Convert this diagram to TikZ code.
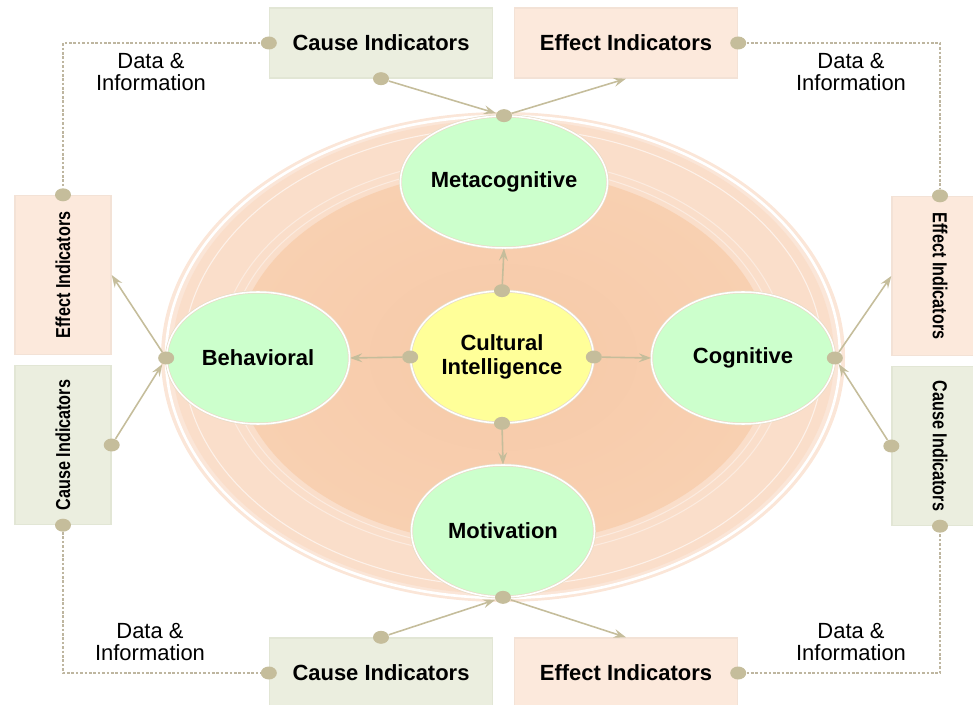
\documentclass[tikz,border=0pt]{standalone}
\usepackage{fontspec}
\setmainfont{Liberation Sans}
\newfontfamily\narrowsf[FakeStretch=0.8]{Liberation Sans}
\usetikzlibrary{arrows.meta,shapes.geometric,positioning}
\usepackage{xcolor}
\definecolor{dotgray}{RGB}{197,189,155}
\definecolor{linkgray}{RGB}{190,182,160}
\definecolor{causefill}{RGB}{235,238,223}
\definecolor{causeline}{RGB}{226,230,213}
\definecolor{effectfill}{RGB}{252,233,220}
\definecolor{effectline}{RGB}{243,226,214}
\definecolor{mint}{RGB}{204,255,204}
\definecolor{lemon}{RGB}{255,255,153}
\definecolor{ringtan}{RGB}{232,220,200}
\definecolor{peachout}{RGB}{251,230,216}
\definecolor{peachband}{RGB}{250,222,202}
\definecolor{peachmid}{RGB}{248,208,177}
\definecolor{peachin}{RGB}{247,201,168}

\begin{document}
\begin{tikzpicture}[x=0.02cm,y=-0.02cm]
			\tikzset{box/.style = {rectangle,line width=0.8pt,inner sep=0pt,
					minimum width=4.46cm,minimum height=1.4cm,
					font=\fontsize{12.5}{14}\selectfont\bfseries}}
			\tikzset{causebox/.style = {box,fill=causefill,draw=causeline}}
			\tikzset{effectbox/.style = {box,fill=effectfill,draw=effectline}}
			\tikzset{sidebox/.style = {minimum width=3.18cm,minimum height=1.92cm,
					font=\fontsize{11.5}{13}\narrowsf\bfseries}}
			\tikzset{factor/.style = {shape=ellipse,fill=mint,draw=ringtan,
					double=white,double distance=0.9pt,line width=0.4pt,
					minimum width=3.66cm,minimum height=2.64cm,inner sep=0pt,
					align=center,font=\fontsize{12.5}{14}\selectfont\bfseries}}
			\tikzset{dot/.style = {shape=ellipse,fill=dotgray,inner sep=0pt,
					minimum width=3.2mm,minimum height=2.6mm}}
			\tikzset{edge/.style = {draw=dotgray,line width=0.9pt,
					-{Stealth[length=7pt,width=5pt,inset=2.5pt]}}}
			\tikzset{link/.style = {draw=linkgray,line width=0.6pt,dash pattern=on 1.5pt off 1pt}}
			\tikzset{info/.style = {align=center,font=\fontsize{12.5}{12.5}\selectfont}}
			\useasboundingbox (0,0) rectangle (973,705);
			% background rings
			\fill[peachout] (503,357) ellipse [x radius=342, y radius=245];
			\draw[white,line width=1.5pt] (503,357) ellipse [x radius=337, y radius=241];
			\fill[peachband] (503,357) ellipse [x radius=331, y radius=237];
			\draw[white,opacity=0.6,line width=0.6pt] (503,357) ellipse [x radius=320, y radius=229];
			\draw[white,opacity=0.4,line width=0.6pt] (503,357) ellipse [x radius=284, y radius=199];
			\draw[white,opacity=0.4,line width=0.6pt] (503,357) ellipse [x radius=275, y radius=192];
			\shade[inner color=peachin,outer color=peachmid] (503,357) ellipse [x radius=268, y radius=187];
			% factors
			\node[factor,fill=lemon] (ci) at (502,357) {Cultural\\Intelligence};
			\node[factor] (meta) at (504,182) {Metacognitive};
			\node[factor] (motiv) at (503,531) {Motivation};
			\node[factor] (behav) at (258,358) {Behavioral};
			\node[factor] (cog) at (743,358) {Cognitive};
			% indicator boxes
			\node[causebox] (tcause) at (381,43) {Cause Indicators};
			\node[effectbox] (teffect) at (626,43) {Effect Indicators};
			\node[causebox] (bcause) at (381,673) {Cause Indicators};
			\node[effectbox] (beffect) at (626,673) {Effect Indicators};
			\node[effectbox,sidebox,rotate=90] (leffect) at (63,275) {Effect Indicators};
			\node[causebox,sidebox,rotate=90] (lcause) at (63,445) {Cause Indicators};
			\node[effectbox,sidebox,rotate=-90] (reffect) at (940,276) {Effect Indicators};
			\node[causebox,sidebox,rotate=-90] (rcause) at (940,446) {Cause Indicators};
			% labels
			\node[info] (tlinfo) at (151,72) {Data \&\\Information};
			\node[info] (trinfo) at (851,72) {Data \&\\Information};
			\node[info] (blinfo) at (150,642) {Data \&\\Information};
			\node[info] (brinfo) at (851,642) {Data \&\\Information};
			% dots
			\node[dot] (mtop) at (meta.north) {};
			\node[dot] (ctop) at (ci.north) {};
			\node[dot] (cleft) at (ci.west) {};
			\node[dot] (cright) at (ci.east) {};
			\node[dot] (cbot) at (ci.south) {};
			\node[dot] (bleft) at (behav.west) {};
			\node[dot] (gright) at (cog.east) {};
			\node[dot] (mbot) at (motiv.south) {};
			\node[dot] (tcl) at (tcause.west) {};
			\node[dot] (tcb) at (tcause.south) {};
			\node[dot] (ter) at (teffect.east) {};
			\node[dot] (let) at (leffect.east) {};
			\node[dot] (lcr) at (lcause.south) {};
			\node[dot] (lcb) at (lcause.west) {};
			\node[dot] (ret) at (reffect.west) {};
			\node[dot] (rcl) at (rcause.south) {};
			\node[dot] (rcb) at (rcause.east) {};
			\node[dot] (bcl) at (bcause.west) {};
			\node[dot] (bct) at (bcause.north) {};
			\node[dot] (ber) at (beffect.east) {};
			% edges
			\draw[edge] (ctop) to (meta.south);
			\draw[edge] (cleft) to (behav.east);
			\draw[edge] (cright) to (cog.west);
			\draw[edge] (cbot) to (motiv.north);
			\draw[edge] (tcb) to (mtop);
			\draw[edge] (mtop) to (teffect.south);
			\draw[edge] (bct) to (mbot);
			\draw[edge] (mbot) to (beffect.north);
			\draw[edge] (lcr) to (bleft);
			\draw[edge] (bleft) to (leffect.south);
			\draw[edge] (rcl) to (gright);
			\draw[edge] (gright) to (reffect.south);
			% data links
			\draw[link] (tcl) -| (let);
			\draw[link] (ter) -| (ret);
			\draw[link] (lcb) |- (bcl);
			\draw[link] (ber) -| (rcb);
\end{tikzpicture}
\end{document}
